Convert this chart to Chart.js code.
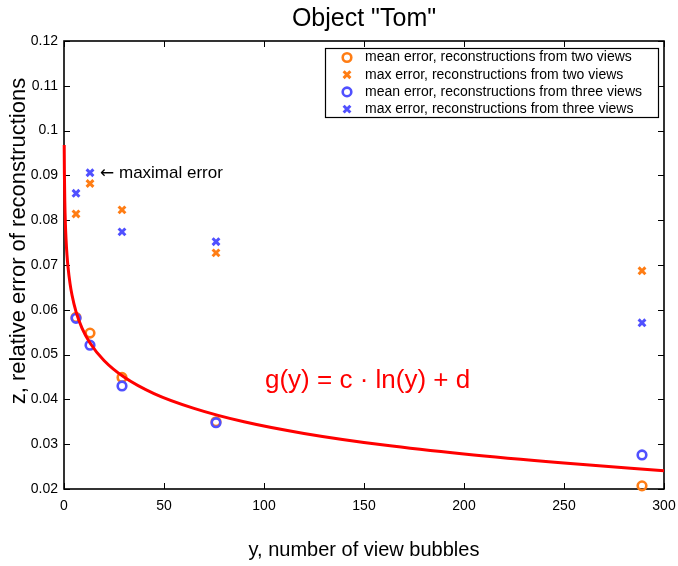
<!DOCTYPE html>
<html><head><meta charset="utf-8">
<script src="https://cdn.jsdelivr.net/npm/chart.js@4.4.1/dist/chart.umd.min.js"></script>
<style>html,body{margin:0;padding:0;background:#fff;} #wrap{width:678px;height:566px;position:relative;}</style>
</head><body>
<div id="wrap"><canvas id="c" width="678" height="566"></canvas></div>
<script>
const chartTitle = 'Object "Tom"';
const xTitle = 'y, number of view bubbles';
const yTitle = 'z, relative error of reconstructions';
const seriesLabels = [
  'mean error, reconstructions from two views',
  'max error, reconstructions from two views',
  'mean error, reconstructions from three views',
  'max error, reconstructions from three views'
];
const bubbles   = [6, 13, 29, 76, 289];
const meanTwo   = [0.0583, 0.0548, 0.0449, 0.0350, 0.0207];
const maxTwo    = [0.0814, 0.0882, 0.0823, 0.0727, 0.0687];
const meanThree = [0.0581, 0.0521, 0.0430, 0.0348, 0.0276];
const maxThree  = [0.0860, 0.0906, 0.0774, 0.0752, 0.0571];
const fitX = [0.1, 0.2, 0.4, 0.7, 1, 1.5, 2, 3, 4, 6, 9, 13, 20, 30, 45, 65, 90, 120, 160, 200, 250, 300];
const fitY = [0.0968, 0.0905, 0.0842, 0.0791, 0.0759, 0.0722, 0.0696, 0.0659, 0.0633, 0.0596, 0.0559, 0.0526, 0.0487, 0.0450, 0.0413, 0.0380, 0.0350, 0.0324, 0.0298, 0.0278, 0.0258, 0.0241];
const xTicks = [0, 50, 100, 150, 200, 250, 300];
const yTicks = [0.02, 0.03, 0.04, 0.05, 0.06, 0.07, 0.08, 0.09, 0.1, 0.11, 0.12];
const fitLabel = 'g(y) = c \u00b7 ln(y) + d';
const arrowGlyph = '\u2190';
const arrowText = ' maximal error';
const arrowPos = [18, 0.0905];
const fitLabelPos = [100.5, 0.0441];

const ORANGE = 'rgb(255,125,20)';
const BLUE = 'rgb(80,80,255)';
const FONT = '"Liberation Sans", Arial, Helvetica, sans-serif';

const pts = (xs, ys) => xs.map((x, i) => ({x: x, y: ys[i]}));

const datasets = [
  {label: seriesLabels[0], data: pts(bubbles, meanTwo), pointStyle: 'circle', pointRadius: 4.3, pointBorderWidth: 2.6,
   borderColor: ORANGE, pointBorderColor: ORANGE, pointBackgroundColor: 'rgba(0,0,0,0)', showLine: false, order: 4, clip: false},
  {label: seriesLabels[1], data: pts(bubbles, maxTwo), pointStyle: 'crossRot', pointRadius: 4.8, pointBorderWidth: 3,
   borderColor: ORANGE, pointBorderColor: ORANGE, pointBackgroundColor: ORANGE, showLine: false, order: 3, clip: false},
  {label: seriesLabels[2], data: pts(bubbles, meanThree), pointStyle: 'circle', pointRadius: 4.3, pointBorderWidth: 2.6,
   borderColor: BLUE, pointBorderColor: BLUE, pointBackgroundColor: 'rgba(0,0,0,0)', showLine: false, order: 2, clip: false},
  {label: seriesLabels[3], data: pts(bubbles, maxThree), pointStyle: 'crossRot', pointRadius: 4.8, pointBorderWidth: 3,
   borderColor: BLUE, pointBorderColor: BLUE, pointBackgroundColor: BLUE, showLine: false, order: 1, clip: false},
  {label: 'fit', data: pts(fitX, fitY), showLine: true, borderColor: 'rgb(255,0,0)', borderWidth: 3, pointRadius: 0,
   cubicInterpolationMode: 'monotone', fill: false, order: 0, clip: false}
];

const framePlugin = {
  id: 'frame',
  beforeDatasetsDraw(chart) {
    const {ctx, chartArea: a, scales: {x, y}} = chart;
    ctx.save();
    ctx.strokeStyle = '#000';
    ctx.lineWidth = 1;
    const tl = 6;
    ctx.beginPath();
    xTicks.forEach(v => {
      const px = Math.round(x.getPixelForValue(v)) + 0.5;
      ctx.moveTo(px, a.bottom); ctx.lineTo(px, a.bottom - tl);
      ctx.moveTo(px, a.top); ctx.lineTo(px, a.top + tl);
    });
    yTicks.forEach(v => {
      const py = Math.round(y.getPixelForValue(v)) + 0.5;
      ctx.moveTo(a.left, py); ctx.lineTo(a.left + tl, py);
      ctx.moveTo(a.right, py); ctx.lineTo(a.right - tl, py);
    });
    ctx.stroke();
    ctx.lineWidth = 1.6;
    ctx.strokeRect(a.left, a.top, a.right - a.left, a.bottom - a.top);
    ctx.restore();
  },
  afterDatasetsDraw(chart) {
    const {ctx, chartArea: a, scales: {x, y}} = chart;
    ctx.save();
    ctx.fillStyle = '#000';
    // title
    ctx.font = '25px ' + FONT;
    ctx.textAlign = 'center';
    ctx.textBaseline = 'middle';
    ctx.fillText(chartTitle, (a.left + a.right) / 2, 19);
    // y axis title
    ctx.save();
    ctx.translate(19, 241);
    ctx.rotate(-Math.PI / 2);
    ctx.font = '22px ' + FONT;
    ctx.fillText(yTitle, 0, 0);
    ctx.restore();
    // annotations
    ctx.textAlign = 'left';
    const ax = x.getPixelForValue(arrowPos[0]), ay = y.getPixelForValue(arrowPos[1]);
    ctx.font = '17px "DejaVu Sans", sans-serif';
    ctx.fillText(arrowGlyph, ax, ay);
    const aw = ctx.measureText(arrowGlyph).width;
    ctx.font = '17px ' + FONT;
    ctx.fillText(arrowText, ax + aw, ay);
    ctx.fillStyle = 'rgb(255,0,0)';
    ctx.font = '26px ' + FONT;
    ctx.fillText(fitLabel, x.getPixelForValue(fitLabelPos[0]), y.getPixelForValue(fitLabelPos[1]));
    // legend
    const bw = 333, bh = 69;
    const bx = a.right - 6 - bw, by = a.top + 7;
    ctx.fillStyle = '#fff';
    ctx.fillRect(bx, by, bw, bh);
    ctx.strokeStyle = '#000';
    ctx.lineWidth = 1.2;
    ctx.strokeRect(bx + 0.5, by + 0.5, bw, bh);
    ctx.font = '14px ' + FONT;
    ctx.textBaseline = 'middle';
    for (let i = 0; i < 4; i++) {
      const ds = chart.data.datasets[i];
      const cy = by + 9.5 + i * 17.2;
      ctx.save();
      ctx.strokeStyle = ds.pointBorderColor;
      ctx.fillStyle = ds.pointBackgroundColor;
      ctx.lineWidth = ds.pointBorderWidth;
      Chart.helpers.drawPoint(ctx, {
        pointStyle: ds.pointStyle, radius: ds.pointRadius, borderWidth: ds.pointBorderWidth, rotation: 0
      }, bx + 22, cy);
      ctx.restore();
      ctx.fillStyle = '#000';
      ctx.fillText(ds.label, bx + 40, cy);
    }
    ctx.restore();
  }
};

const chart = new Chart(document.getElementById('c'), {
  type: 'scatter',
  data: {datasets: datasets},
  options: {
    responsive: false,
    animation: false,
    layout: {padding: {left: 0, right: 14, top: 41, bottom: 0}},
    plugins: {legend: {display: false}, tooltip: {enabled: false}, title: {display: false}},
    scales: {
      x: {
        type: 'linear', min: 0, max: 300,
        afterBuildTicks: s => { s.ticks = xTicks.map(v => ({value: v})); },
        afterFit: s => { s.height = 77; s.paddingLeft = 0; s.paddingRight = 0; },
        grid: {display: false, drawTicks: false},
        border: {display: false},
        ticks: {color: '#000', padding: 9, font: {family: FONT, size: 14}, maxRotation: 0,
                callback: v => String(v)},
        title: {display: true, text: xTitle, color: '#000', font: {family: FONT, size: 20}, padding: {top: 0, bottom: 4}}
      },
      y: {
        type: 'linear', min: 0.02, max: 0.12,
        afterBuildTicks: s => { s.ticks = yTicks.map(v => ({value: v})); },
        afterFit: s => { s.width = 64; s.paddingTop = 0; s.paddingBottom = 0; },
        grid: {display: false, drawTicks: false},
        border: {display: false},
        ticks: {color: '#000', padding: 6, font: {family: FONT, size: 14},
                callback: v => String(Number(v.toFixed(4)))},
        title: {display: false, text: yTitle}
      }
    }
  },
  plugins: [framePlugin]
});
</script>
</body></html>
